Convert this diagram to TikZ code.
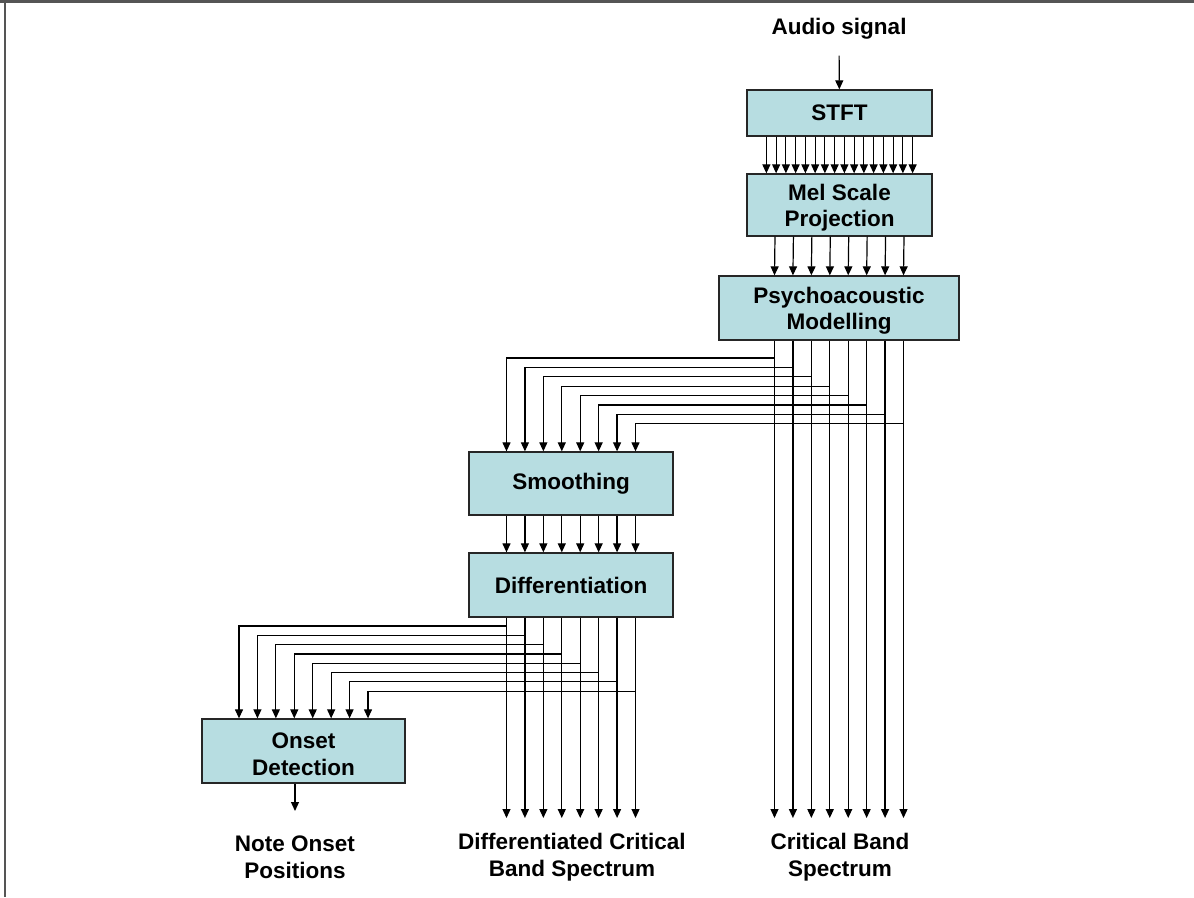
\documentclass[tikz,border=0pt]{standalone}
\usepackage{fontspec}
\setmainfont{Liberation Sans}
\usepackage{tikz}
\usetikzlibrary{arrows.meta}
\definecolor{boxteal}{RGB}{183,221,225}
\definecolor{framegrey}{RGB}{85,85,85}
\newcommand{\liftline}{\rule{0pt}{22pt}}
\tikzset{
  stage/.style={draw=black!85,fill=boxteal,line width=1.3pt,align=center,inner sep=0pt},
  band/.style={-{Triangle[length=9pt,width=8pt]},line width=1.2pt},
  caption/.style={align=center,inner sep=0pt},
}

\begin{document}
\begin{tikzpicture}[x=1pt,y=-1pt,font=\fontsize{22.5}{26.5}\selectfont\bfseries]
  \useasboundingbox (0,0) rectangle (1194,897);
  % frame
  \draw[framegrey,line width=2.5pt] (0,1.5) -- (1194,1.5);
  \draw[framegrey,line width=2pt] (5,0) -- (5,897);
  % stages
  \node[stage,minimum width=185,minimum height=46] (stft) at (839.5,113) {STFT};
  \node[stage,minimum width=185,minimum height=62] (mel) at (839.5,205) {\liftline Mel Scale\\Projection};
  \node[stage,minimum width=240,minimum height=64] (psy) at (839,308) {\liftline Psychoacoustic\\Modelling};
  \node[stage,minimum width=204,minimum height=63] (smooth) at (571,483.5) {Smoothing};
  \node[stage,minimum width=204,minimum height=64] (diff) at (571,585) {Differentiation};
  \node[stage,minimum width=203,minimum height=64] (onset) at (303.5,751) {\liftline Onset\\Detection};
  % input and outputs
  \node[caption] (audio) at (839,29) {Audio signal};
  \node[caption] (notes) at (295,857) {Note Onset\\Positions};
  \node[caption] (dcbs) at (572,857) {Differentiated Critical\\Band Spectrum};
  \node[caption] (cbs) at (840,857) {Critical Band\\Spectrum};
  \coordinate (tips) at (0,818);
  \coordinate (ntip) at (0,811);
  \draw[band,shorten <=16pt] (audio.south) -- (stft);
  % spectrum bins
  \foreach \i in {0,...,15}
    \draw[band] ([xshift={(\i-7.5)*9.75}]stft.south) -- ([xshift={(\i-7.5)*9.75}]mel.north);
  % mel bands
  \foreach \i in {0,...,7}
    \draw[band] ([xshift={(\i-3.5)*18.43}]mel.south) -- ([xshift={(\i-3.5)*18.43}]psy.north);
  % critical bands, straight down and over to smoothing
  \foreach \i in {0,...,7} {
    \path ([xshift={(\i-3.5)*18.43}]psy.south) coordinate (p\i)
          ([xshift={(\i-3.5)*18.43}]smooth.north) coordinate (s\i);
    \coordinate (r\i) at (0,{358+9.4*\i});
    \draw[band] (p\i) -- (p\i |- tips);
    \draw[band] (p\i) |- (s\i |- r\i) -- (s\i);
  }
  % smoothed bands
  \foreach \i in {0,...,7}
    \draw[band] ([xshift={(\i-3.5)*18.43}]smooth.south) -- ([xshift={(\i-3.5)*18.43}]diff.north);
  % differentiated bands, straight down and over to onset detection
  \foreach \i in {0,...,7} {
    \path ([xshift={(\i-3.5)*18.43}]diff.south) coordinate (d\i)
          ([xshift={(\i-3.5)*18.43}]onset.north) coordinate (o\i);
    \coordinate (q\i) at (0,{626+9.3*\i});
    \draw[band] (d\i) -- (d\i |- tips);
    \draw[band] (d\i) |- (o\i |- q\i) -- (o\i);
  }
  % onsets
  \path ([xshift=-8.5pt]onset.south) coordinate (oo);
  \draw[band] (oo) -- (oo |- ntip);
\end{tikzpicture}
\end{document}
